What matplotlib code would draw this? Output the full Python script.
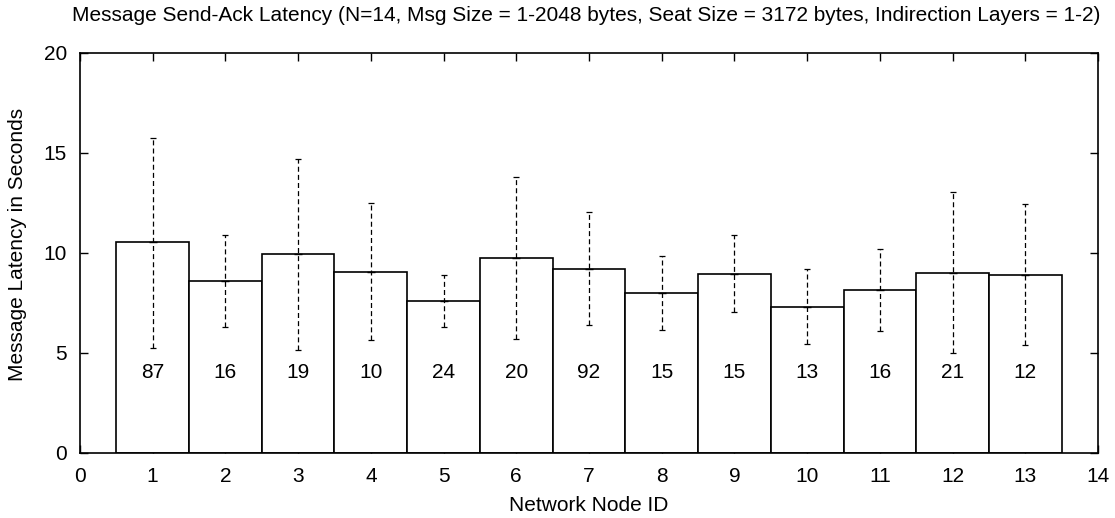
import matplotlib
matplotlib.use("Agg")
import matplotlib.pyplot as plt
import numpy as np

node_ids = [1, 2, 3, 4, 5, 6, 7, 8, 9, 10, 11, 12, 13]
mean_latency = [10.53, 8.61, 9.93, 9.07, 7.60, 9.75, 9.22, 8.00, 8.96, 7.32, 8.16, 9.02, 8.91]
err_high = [15.76, 10.89, 14.72, 12.50, 8.91, 13.82, 12.04, 9.87, 10.89, 9.22, 10.22, 13.03, 12.43]
err_low = [5.26, 6.31, 5.15, 5.65, 6.31, 5.70, 6.41, 6.13, 7.04, 5.43, 6.09, 5.02, 5.40]
counts = ["87", "16", "19", "10", "24", "20", "92", "15", "15", "13", "16", "21", "12"]

plt.rcParams['font.family'] = ['Liberation Sans', 'DejaVu Sans']

fig = plt.figure(figsize=(11.15, 5.18), dpi=100)
ax = fig.add_axes([0.0717, 0.1255, 0.9131, 0.7722])

ax.bar(node_ids, mean_latency, width=1.0, color='white', edgecolor='black', linewidth=1.2, zorder=2)

m = np.array(mean_latency)
lo = m - np.array(err_low)
hi = np.array(err_high) - m
eb = ax.errorbar(node_ids, mean_latency, yerr=[lo, hi], fmt='none', ecolor='black',
                 elinewidth=0.9, capsize=2, capthick=0.9, zorder=3)
for lc in eb[2]:
    lc.set_linestyle((0, (4, 2.5)))
ax.plot(node_ids, mean_latency, linestyle='none', marker='_', markersize=6, color='black', zorder=4)

for x, c in zip(node_ids, counts):
    ax.text(x, 4.0, c, ha='center', va='center', fontsize=15, zorder=5)

ax.set_xlim(0, 14)
ax.set_ylim(0, 20)
ax.set_xticks(range(0, 15))
ax.set_yticks([0, 5, 10, 15, 20])
ax.tick_params(direction='in', top=True, right=True, length=6, labelsize=15, width=1)
ax.tick_params(axis='x', pad=10)
ax.tick_params(axis='y', pad=9.5)
for s in ax.spines.values():
    s.set_linewidth(1.2)

ax.set_xlabel("Network Node ID", fontsize=15, labelpad=7)
ax.set_ylabel("Message Latency in Seconds", fontsize=15)
ax.yaxis.set_label_coords(-0.052, 0.5225)
fig.text(0.5256, 0.970, "Message Send-Ack Latency (N=14, Msg Size = 1-2048 bytes, Seat Size = 3172 bytes, Indirection Layers = 1-2)",
         ha='center', va='center', fontsize=15)

fig.savefig("out.png", dpi=100)
